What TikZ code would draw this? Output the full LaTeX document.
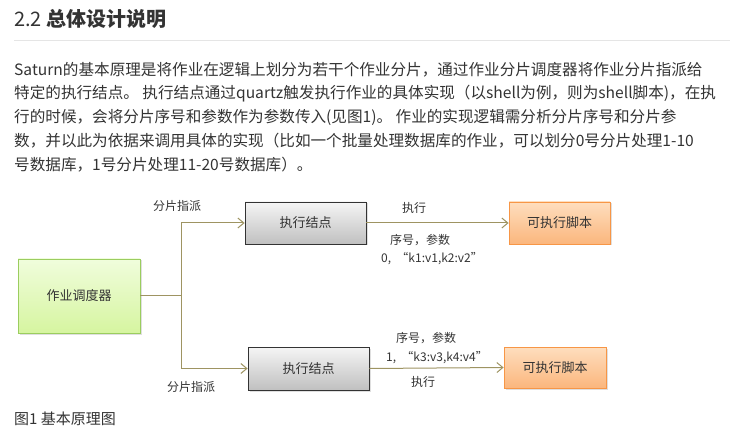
\documentclass[tikz,border=0pt]{standalone}
\usepackage{fontspec}
\setmainfont{Noto Sans CJK SC}
\usetikzlibrary{arrows.meta,shadows}
\definecolor{textGray}{RGB}{51,51,51}
\definecolor{ruleGray}{RGB}{229,229,229}
\definecolor{linkOlive}{RGB}{158,148,98}
\definecolor{greenTop}{RGB}{240,253,220}
\definecolor{greenBot}{RGB}{214,245,160}
\definecolor{greenLine}{RGB}{155,205,95}
\definecolor{grayTop}{RGB}{245,245,245}
\definecolor{grayBot}{RGB}{192,192,192}
\definecolor{orangeTop}{RGB}{254,222,190}
\definecolor{orangeBot}{RGB}{251,182,125}
\definecolor{orangeLine}{RGB}{247,150,70}

\begin{document}
\begin{tikzpicture}[x=1pt,y=-1pt,
  bodytext/.style={anchor=base west,inner sep=0pt,text=textGray,font=\fontsize{15.6}{18}\selectfont},
  boxtext/.style={text=textGray,font=\fontsize{13}{15}\selectfont},
  smalllabel/.style={text=textGray,font=\fontsize{12}{14}\selectfont,inner sep=0pt},
  shade/.style={drop shadow={opacity=.25,shadow xshift=1.5pt,shadow yshift=-1.5pt}},
  flow/.style={draw=linkOlive,line width=1pt},
  flowarrow/.style={flow,-{Straight Barb[length=6pt,width=10pt,line width=1pt]}}]
  \useasboundingbox (0,0) rectangle (730,435);
  % heading
  \node[anchor=base west,inner sep=0pt,text=textGray,font=\fontsize{20}{24}\selectfont] (title) at (14,27) {2.2 \textbf{总体设计说明}};
  \draw[ruleGray,line width=.8pt] (14,40) -- (730,40);
  % paragraph
  \node[bodytext] (p1) at (14,76) {Saturn的基本原理是将作业在逻辑上划分为若干个作业分片，通过作业分片调度器将作业分片指派给};
  \node[bodytext] (p2) at (14,99) {特定的执行结点。 执行结点通过quartz触发执行作业的具体实现（以shell为例，则为shell脚本)，在执};
  \node[bodytext] (p3) at (14,123) {行的时候，会将分片序号和参数作为参数传入(见图1)。 作业的实现逻辑需分析分片序号和分片参};
  \node[bodytext] (p4) at (14,147) {数，并以此为依据来调用具体的实现（比如一个批量处理数据库的作业，可以划分0号分片处理1-10};
  \node[bodytext] (p5) at (14,171) {号数据库，1号分片处理11-20号数据库）。};
  % diagram
  \node[boxtext,shade,draw=greenLine,line width=.8pt,top color=greenTop,bottom color=greenBot,
        minimum width=122pt,minimum height=74pt] (sched) at (79,296) {作业调度器};
  \node[boxtext,shade,draw=black!80,line width=.8pt,top color=grayTop,bottom color=grayBot,
        minimum width=121pt,minimum height=42pt] (exec1) at (305.5,223) {执行结点};
  \node[boxtext,shade,draw=black!80,line width=.8pt,top color=grayTop,bottom color=grayBot,
        minimum width=121pt,minimum height=43pt] (exec2) at (308.5,368.5) {执行结点};
  \node[boxtext,shade,draw=orangeLine,line width=.8pt,top color=orangeTop,bottom color=orangeBot,
        minimum width=101pt,minimum height=42pt] (script1) at (559.5,223) {可执行脚本};
  \node[boxtext,shade,draw=orangeLine,line width=.8pt,top color=orangeTop,bottom color=orangeBot,
        minimum width=102pt,minimum height=41pt] (script2) at (555,367.5) {可执行脚本};
  \coordinate (fork) at (181,296);
  \draw[flow] (sched.east) -- (fork);
  \draw[flowarrow] (fork) |- (exec1.west);
  \draw[flowarrow] (fork) |- (exec2.west);
  \draw[flowarrow] (exec1.east) -- (script1.west);
  \draw[flowarrow] (exec2.east) -- (script2.west);
  % labels
  \node[smalllabel] (assign1) at (177,206) {分片指派};
  \node[smalllabel] (assign2) at (191,387) {分片指派};
  \node[smalllabel] (run1) at (414,208) {执行};
  \node[smalllabel] (seq1) at (420,240) {序号，参数};
  \node[smalllabel] (arg1) at (432,259) {0,\ \ “k1:v1,k2:v2”};
  \node[smalllabel] (seq2) at (426,338) {序号，参数};
  \node[smalllabel] (arg2) at (437,358) {1,\ \ “k3:v3,k4:v4”};
  \node[smalllabel] (run2) at (423,382) {执行};
  % caption
  \node[anchor=base west,inner sep=0pt,text=textGray,font=\fontsize{15}{18}\selectfont] (cap) at (14,424) {图1 基本原理图};
\end{tikzpicture}
\end{document}
